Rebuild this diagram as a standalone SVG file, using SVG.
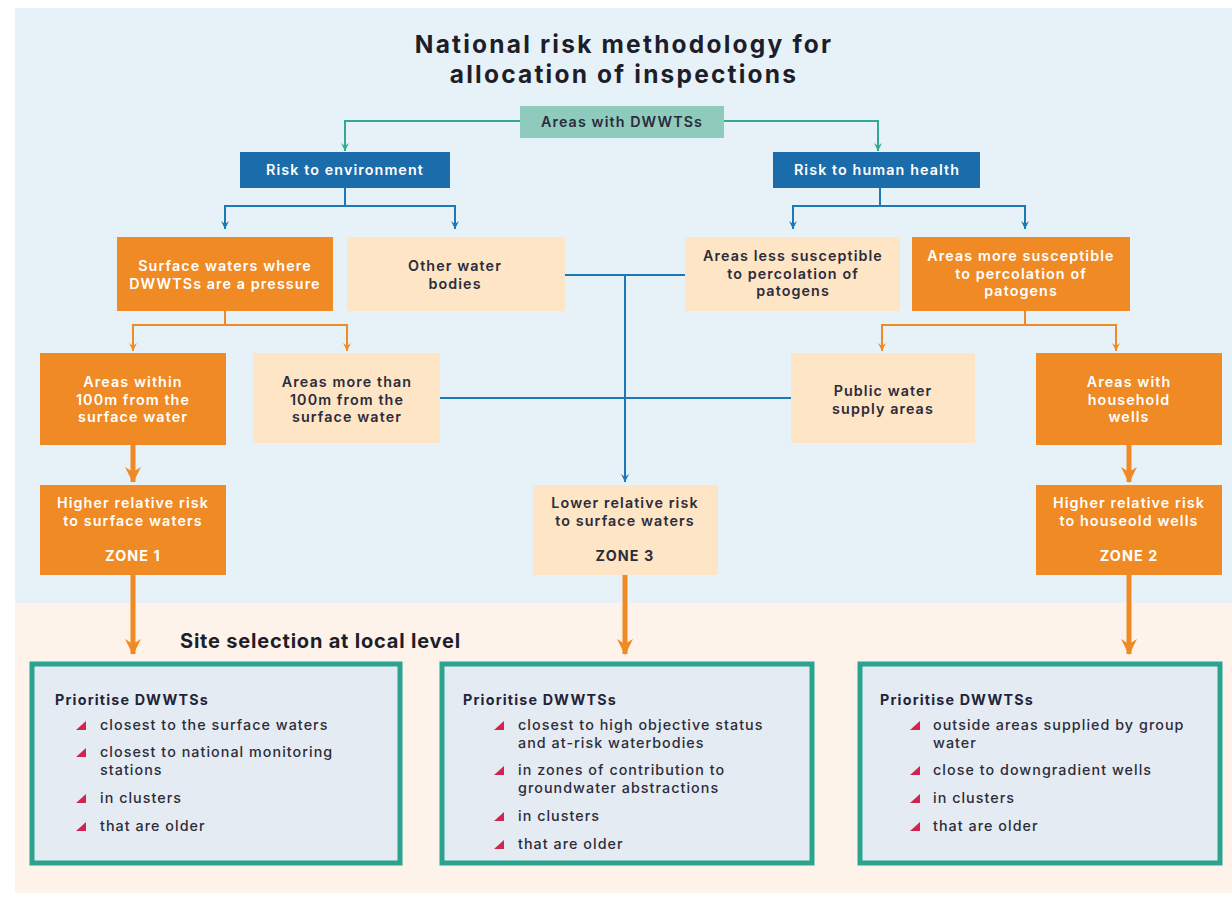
<svg xmlns="http://www.w3.org/2000/svg" width="1232" height="902" viewBox="0 0 1232 902">
<style>
text{font-family:Inter,"Liberation Sans",sans-serif;}
.t{font-size:14.3px;font-weight:600;text-anchor:middle;letter-spacing:1.1px;}
.w{fill:#ffffff;}
.d{fill:#2c2c3a;}
.org{fill:#ef8a25;}
.pch{fill:#fde5c6;}
.blu{fill:#1a6cab;}
.tl{fill:#8ecbbd;}
.ln{fill:none;stroke-width:2;}
.teal{stroke:#34a795;}
.bl{stroke:#1f78b6;}
.or{stroke:#ef8a25;}
.thick{fill:none;stroke:#ef8a25;stroke-width:5;}
.pbox{fill:#e4ebf2;stroke:#2aa38f;stroke-width:5;}
.ph{font-size:14.3px;font-weight:700;fill:#23233a;letter-spacing:1.2px;}
.bt{font-size:14.3px;font-weight:500;fill:#2c2c3a;letter-spacing:1.05px;}
.bul{fill:#d4234e;}
</style>
<defs>
<marker id="aT" markerUnits="userSpaceOnUse" markerWidth="10" markerHeight="10" refX="5" refY="9" orient="0" viewBox="0 0 10 10"><path d="M1,1 L5,9 L9,1 L5,4 Z" fill="#34a795"/></marker>
<marker id="aB" markerUnits="userSpaceOnUse" markerWidth="10" markerHeight="10" refX="5" refY="9" orient="0" viewBox="0 0 10 10"><path d="M1,1 L5,9 L9,1 L5,4 Z" fill="#1f78b6"/></marker>
<marker id="aO" markerUnits="userSpaceOnUse" markerWidth="10" markerHeight="10" refX="5" refY="9" orient="0" viewBox="0 0 10 10"><path d="M1,1 L5,9 L9,1 L5,4 Z" fill="#ef8a25"/></marker>
<marker id="aOT" markerUnits="userSpaceOnUse" markerWidth="18" markerHeight="18" refX="9" refY="16" orient="0" viewBox="0 0 18 18"><path d="M1,1 L9,17 L17,1 L9,6 Z" fill="#ef8a25"/></marker>
<path id="tri" d="M0,9 L10,0 L10,9 Z"/>
</defs>

<!-- background -->
<rect x="0" y="0" width="1232" height="902" fill="#ffffff"/>
<rect x="15" y="8" width="1217" height="597" fill="#e7f1f8"/>
<rect x="15" y="603" width="1217" height="290" fill="#fdf3ea"/>

<!-- titles -->
<text font-size="24.5" font-weight="700" text-anchor="middle" fill="#1e1e2a" letter-spacing="2.2"><tspan x="624" y="53">National risk methodology for</tspan><tspan x="624" y="83">allocation of inspections</tspan></text>
<text x="180" y="648" font-size="20" font-weight="700" fill="#1e1e2a" letter-spacing="0.8">Site selection at local level</text>

<!-- connectors -->
<g id="connectors">
<path class="ln teal" d="M520,121 H345 V151" marker-end="url(#aT)"/>
<path class="ln teal" d="M724,121 H878 V151" marker-end="url(#aT)"/>
<path class="ln bl" d="M345,188 V206 H225 V229" marker-end="url(#aB)"/>
<path class="ln bl" d="M345,206 H455 V229" marker-end="url(#aB)"/>
<path class="ln bl" d="M880,188 V206 H793 V229" marker-end="url(#aB)"/>
<path class="ln bl" d="M880,206 H1025 V229" marker-end="url(#aB)"/>
<path class="ln or" d="M225,311 V325 H133 V351" marker-end="url(#aO)"/>
<path class="ln or" d="M225,325 H347 V351" marker-end="url(#aO)"/>
<path class="ln or" d="M1025,311 V325 H882 V351" marker-end="url(#aO)"/>
<path class="ln or" d="M1025,325 H1116 V351" marker-end="url(#aO)"/>
<path class="ln bl" d="M565,275 H685"/>
<path class="ln bl" d="M440,398 H791"/>
<path class="ln bl" d="M625,275 V482" marker-end="url(#aB)"/>
<path class="thick" d="M133,445 V482" marker-end="url(#aOT)"/>
<path class="thick" d="M1129,445 V482" marker-end="url(#aOT)"/>
<path class="thick" d="M133,575 V654" marker-end="url(#aOT)"/>
<path class="thick" d="M625,575 V654" marker-end="url(#aOT)"/>
<path class="thick" d="M1129,575 V654" marker-end="url(#aOT)"/>
</g>

<!-- nodes -->
<g id="n-areas">
<rect class="tl" x="520" y="106" width="204" height="32"/>
<text class="t d" x="622" y="127">Areas with DWWTSs</text>
</g>
<g id="n-env">
<rect class="blu" x="240" y="152" width="210" height="36"/>
<text class="t w" x="345" y="175">Risk to environment</text>
</g>
<g id="n-health">
<rect class="blu" x="773" y="152" width="207" height="36"/>
<text class="t w" x="877" y="175">Risk to human health</text>
</g>
<g id="n-surface">
<rect class="org" x="117" y="237" width="216" height="74"/>
<text class="t w"><tspan x="225" y="271">Surface waters where</tspan><tspan x="225" y="288.5">DWWTSs are a pressure</tspan></text>
</g>
<g id="n-other">
<rect class="pch" x="347" y="237" width="218" height="74"/>
<text class="t d"><tspan x="455" y="271">Other water</tspan><tspan x="455" y="288.5">bodies</tspan></text>
</g>
<g id="n-less">
<rect class="pch" x="685" y="237" width="215" height="74"/>
<text class="t d"><tspan x="793" y="261">Areas less susceptible</tspan><tspan x="793" y="278.5">to percolation of</tspan><tspan x="793" y="296">patogens</tspan></text>
</g>
<g id="n-more">
<rect class="org" x="912" y="237" width="218" height="74"/>
<text class="t w"><tspan x="1021" y="261">Areas more susceptible</tspan><tspan x="1021" y="278.5">to percolation of</tspan><tspan x="1021" y="296">patogens</tspan></text>
</g>
<g id="n-within">
<rect class="org" x="40" y="353" width="186" height="92"/>
<text class="t w"><tspan x="133" y="387">Areas within</tspan><tspan x="133" y="404.5">100m from the</tspan><tspan x="133" y="422">surface water</tspan></text>
</g>
<g id="n-morethan">
<rect class="pch" x="253" y="353" width="187" height="90"/>
<text class="t d"><tspan x="347" y="387">Areas more than</tspan><tspan x="347" y="404.5">100m from the</tspan><tspan x="347" y="422">surface water</tspan></text>
</g>
<g id="n-public">
<rect class="pch" x="791" y="353" width="184" height="90"/>
<text class="t d"><tspan x="883" y="396">Public water</tspan><tspan x="883" y="413.5">supply areas</tspan></text>
</g>
<g id="n-wells">
<rect class="org" x="1036" y="353" width="186" height="92"/>
<text class="t w"><tspan x="1129" y="387">Areas with</tspan><tspan x="1129" y="404.5">household</tspan><tspan x="1129" y="422">wells</tspan></text>
</g>
<g id="n-zone1">
<rect class="org" x="40" y="485" width="186" height="90"/>
<text class="t w"><tspan x="133" y="508">Higher relative risk</tspan><tspan x="133" y="525.5">to surface waters</tspan><tspan x="133" y="561" font-weight="700">ZONE 1</tspan></text>
</g>
<g id="n-zone3">
<rect class="pch" x="533" y="485" width="185" height="90"/>
<text class="t d"><tspan x="625" y="508">Lower relative risk</tspan><tspan x="625" y="525.5">to surface waters</tspan><tspan x="625" y="561" font-weight="700">ZONE 3</tspan></text>
</g>
<g id="n-zone2">
<rect class="org" x="1036" y="485" width="186" height="90"/>
<text class="t w"><tspan x="1129" y="508">Higher relative risk</tspan><tspan x="1129" y="525.5">to houseold wells</tspan><tspan x="1129" y="561" font-weight="700">ZONE 2</tspan></text>
</g>

<g id="p1">
<rect class="pbox" x="32" y="664" width="368" height="199"/>
<text class="ph" x="55" y="705">Prioritise DWWTSs</text>
<use href="#tri" class="bul" x="76" y="721"/>
<text class="bt" x="100" y="730">closest to the surface waters</text>
<use href="#tri" class="bul" x="76" y="748"/>
<text class="bt"><tspan x="100" y="757">closest to national monitoring</tspan><tspan x="100" y="774.5">stations</tspan></text>
<use href="#tri" class="bul" x="76" y="794"/>
<text class="bt" x="100" y="803">in clusters</text>
<use href="#tri" class="bul" x="76" y="822"/>
<text class="bt" x="100" y="831">that are older</text>
</g>
<g id="p2">
<rect class="pbox" x="442" y="664" width="370" height="199"/>
<text class="ph" x="463" y="705">Prioritise DWWTSs</text>
<use href="#tri" class="bul" x="494" y="721"/>
<text class="bt"><tspan x="518" y="730">closest to high objective status</tspan><tspan x="518" y="747.5">and at-risk waterbodies</tspan></text>
<use href="#tri" class="bul" x="494" y="766"/>
<text class="bt"><tspan x="518" y="775">in zones of contribution to</tspan><tspan x="518" y="792.5">groundwater abstractions</tspan></text>
<use href="#tri" class="bul" x="494" y="812"/>
<text class="bt" x="518" y="821">in clusters</text>
<use href="#tri" class="bul" x="494" y="840"/>
<text class="bt" x="518" y="849">that are older</text>
</g>
<g id="p3">
<rect class="pbox" x="860" y="664" width="360" height="199"/>
<text class="ph" x="880" y="705">Prioritise DWWTSs</text>
<use href="#tri" class="bul" x="910" y="721"/>
<text class="bt"><tspan x="933" y="730">outside areas supplied by group</tspan><tspan x="933" y="747.5">water</tspan></text>
<use href="#tri" class="bul" x="910" y="766"/>
<text class="bt" x="933" y="775">close to downgradient wells</text>
<use href="#tri" class="bul" x="910" y="794"/>
<text class="bt" x="933" y="803">in clusters</text>
<use href="#tri" class="bul" x="910" y="822"/>
<text class="bt" x="933" y="831">that are older</text>
</g>
</svg>
